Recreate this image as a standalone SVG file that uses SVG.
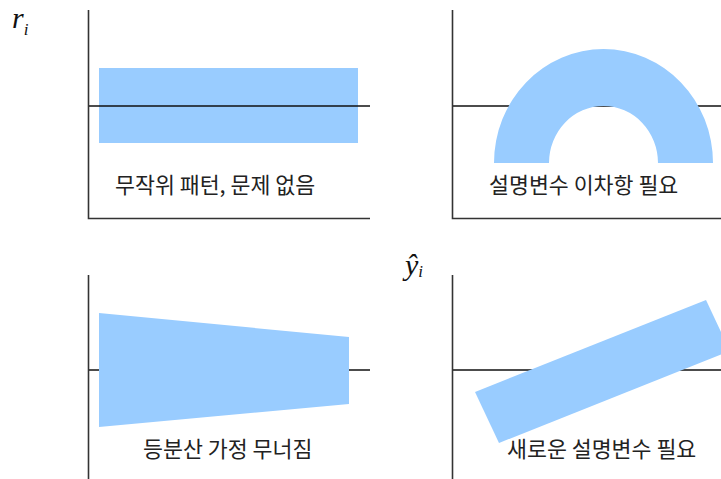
<svg xmlns="http://www.w3.org/2000/svg" width="721" height="479" viewBox="0 0 721 479">
<style>
.axis{stroke:#333;stroke-width:1.6;fill:none}
.zero{stroke:#111;stroke-width:1.5;fill:none}
.band{fill:#99CCFF;stroke:none}
.lbl{font-family:"Noto Sans CJK KR","Noto Sans",sans-serif;font-size:21.7px;fill:#222}
.math{font-family:"Liberation Serif",serif;font-style:italic;fill:#111}
</style>
<rect width="721" height="479" fill="#fff"/>
<g id="panel-top-left">
<rect class="band" x="99" y="68" width="259" height="75"/>
<line class="zero" x1="88" y1="106" x2="370" y2="106"/>
<polyline class="axis" points="88.5,10 88.5,218.5 370,218.5"/>
<text class="lbl" x="115" y="193">무작위 패턴, 문제 없음</text>
</g>
<g id="panel-top-right">
<line class="zero" x1="452" y1="106" x2="721" y2="106"/>
<path class="band" d="M494,163 A109.5,114 0 0 1 713,163 L658,163 A54.5,57 0 0 0 549,163 Z"/>
<polyline class="axis" points="452.5,10 452.5,218.5 721,218.5"/>
<text class="lbl" x="489" y="193">설명변수 이차항 필요</text>
</g>
<g id="panel-bottom-left">
<line class="zero" x1="88" y1="370" x2="370" y2="370"/>
<polygon class="band" points="99,313 349,337 349,404 99,427"/>
<line class="axis" x1="88.5" y1="275" x2="88.5" y2="479"/>
<text class="lbl" x="143" y="457">등분산 가정 무너짐</text>
</g>
<g id="panel-bottom-right">
<line class="zero" x1="452" y1="370" x2="721" y2="370"/>
<polygon class="band" points="475,392 706,300 730,351 499,443"/>
<line class="axis" x1="452.5" y1="275" x2="452.5" y2="479"/>
<text class="lbl" x="507" y="457">새로운 설명변수 필요</text>
</g>
<g id="axis-labels">
<text class="math" x="12" y="28" font-size="30">r<tspan font-size="17" dy="7">i</tspan></text>
<text class="math" x="405" y="275" font-size="30">ŷ<tspan font-size="17" dy="2">i</tspan></text>
</g>
</svg>
